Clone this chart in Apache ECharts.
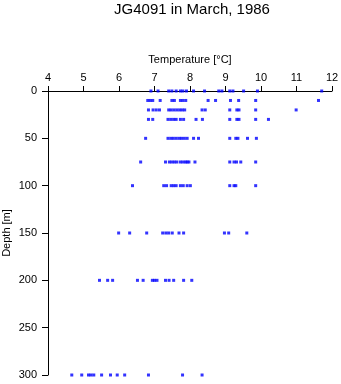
<!DOCTYPE html>
<html>
<head>
<meta charset="utf-8">
<script src="https://cdn.jsdelivr.net/npm/echarts@6/dist/echarts.min.js"></script>
<style>html,body{margin:0;padding:0;background:#fff}#c{width:341px;height:384px}</style>
</head>
<body>
<div id="c"></div>
<script>
var depths = [0, 10, 20, 30, 50, 75, 100, 150, 200, 300];
var t0   = [6.90, 7.10, 7.40, 7.49, 7.61, 7.73, 7.80, 7.90, 8.10, 8.41, 8.81, 8.90, 9.12, 9.21, 9.51, 9.90, 11.71];
var t10  = [6.81, 6.88, 6.95, 7.16, 7.49, 7.56, 7.73, 7.80, 7.88, 8.51, 8.72, 9.14, 9.37, 9.85, 11.62];
var t20  = [6.83, 6.96, 7.05, 7.14, 7.40, 7.47, 7.55, 7.63, 7.71, 7.78, 7.85, 8.34, 8.43, 9.12, 9.32, 9.38, 9.85, 10.99];
var t30  = [6.83, 6.95, 7.38, 7.46, 7.54, 7.61, 7.73, 7.82, 8.17, 8.35, 9.12, 9.32, 9.38, 9.85, 10.21];
var t50  = [6.75, 7.38, 7.46, 7.53, 7.61, 7.69, 7.76, 7.84, 7.92, 8.10, 8.24, 9.12, 9.29, 9.35, 9.62, 9.87];
var t75  = [6.61, 7.31, 7.42, 7.49, 7.56, 7.63, 7.73, 7.80, 7.87, 7.92, 7.97, 8.14, 9.12, 9.24, 9.31, 9.43, 9.85];
var t100 = [6.38, 7.26, 7.34, 7.47, 7.54, 7.61, 7.73, 7.81, 7.92, 8.01, 9.12, 9.24, 9.29, 9.85];
var t150 = [5.99, 6.30, 6.78, 7.23, 7.32, 7.40, 7.50, 7.69, 7.82, 8.97, 9.09, 9.60];
var t200 = [5.45, 5.68, 5.82, 6.52, 6.68, 6.94, 7.00, 7.07, 7.31, 7.41, 7.54, 7.82, 8.05];
var t300 = [4.67, 4.95, 5.14, 5.21, 5.29, 5.51, 5.76, 5.95, 6.16, 6.83, 7.79, 8.34];
var temps = [t0, t10, t20, t30, t50, t75, t100, t150, t200, t300];

var pts = [];
depths.forEach(function (d, i) {
  temps[i].forEach(function (t) { pts.push([t, d]); });
});

var font = 'Liberation Sans, Arial, sans-serif';
var chart = echarts.init(document.getElementById('c'), null, {renderer: 'canvas'});
chart.setOption({
  animation: false,
  title: {
    text: 'JG4091 in March, 1986',
    left: 187, top: -3, textAlign: 'center',
    textStyle: {fontFamily: font, fontSize: 15, fontWeight: 'normal', color: '#000'}
  },
  grid: {left: 48, right: 9, top: 91, bottom: 9, containLabel: false, outerBoundsMode: 'none'},
  xAxis: {
    type: 'value', position: 'top', min: 4, max: 12, interval: 1,
    name: 'Temperature [°C]', nameLocation: 'middle', nameGap: 26,
    nameTextStyle: {fontFamily: font, fontSize: 11, color: '#000'},
    axisLine: {show: true, onZero: false, lineStyle: {color: '#000', width: 1}},
    axisTick: {show: true, inside: false, length: 5, lineStyle: {color: '#000'}},
    axisLabel: {fontFamily: font, fontSize: 11, color: '#000', margin: 8},
    splitLine: {show: false}
  },
  yAxis: {
    type: 'value', inverse: true, min: 0, max: 300, interval: 50,
    name: 'Depth [m]', nameLocation: 'middle', nameGap: 36, nameMoveOverlap: false,
    nameTextStyle: {fontFamily: font, fontSize: 11, color: '#000'},
    axisLine: {show: true, onZero: false, lineStyle: {color: '#000', width: 1}},
    axisTick: {show: true, inside: false, length: 6, lineStyle: {color: '#000'}},
    axisLabel: {fontFamily: font, fontSize: 11, color: '#000', margin: 11},
    splitLine: {show: false}
  },
  series: [{
    type: 'scatter',
    data: pts,
    symbol: 'rect',
    symbolSize: 3,
    itemStyle: {color: '#0000ff'}
  }]
});
</script>
</body>
</html>
